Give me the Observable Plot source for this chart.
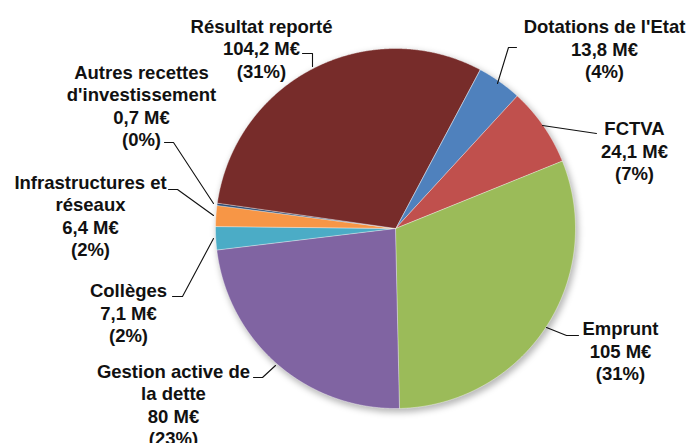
<!DOCTYPE html>
<html><head><meta charset="utf-8">
<script src="https://cdn.jsdelivr.net/npm/d3@7"></script>
<script src="https://cdn.jsdelivr.net/npm/@observablehq/plot@0.6"></script>
<style>body{margin:0;background:#fff;overflow:hidden}</style>
</head><body><div id="chart"></div>
<script>
// ---- data ----
const categories = ["Dotations de l'Etat","FCTVA","Emprunt","Gestion active de la dette","Collèges","Infrastructures et réseaux","Autres recettes d'investissement","Résultat reporté"];
const values = [13.8, 24.1, 105, 80, 7.1, 6.4, 0.7, 104.2];
const valueLabels = ["13,8 M€","24,1 M€","105 M€","80 M€","7,1 M€","6,4 M€","0,7 M€","104,2 M€"];
const percentLabels = ["(4%)","(7%)","(31%)","(23%)","(2%)","(2%)","(0%)","(31%)"];
const nameLines = ["Dotations de l'Etat","FCTVA","Emprunt","Gestion active de\nla dette","Collèges","Infrastructures et\nréseaux","Autres recettes\nd'investissement","Résultat reporté"];
const colors = ["#4F81BD","#C0504D","#9BBB59","#8064A2","#4BACC6","#F79646","#2C4D75","#772C2A"];

// ---- layout ----
const W = 688, H = 443;
const CX = 395, CY = 228, R = 180;
const START = 28 * Math.PI / 180;
const labelPos = [[604,48],[634,150],[620,350],[173,404],[128,312],[90,215],[141,105],[261,47.5]];
const leaderPaths = [
  [[516,47],[508,47],[497,83]],
  [[596,133],[542,125]],
  [[578,335],[566,335],[546,327]],
  [[253,377],[262,377],[275,365]],
  [[172,296],[182,296],[213,238]],
  [[168,189],[177,189],[213,215]],
  [[164,142],[173,142],[213,203]],
  [[302,53],[312,53],[312,66]]
];

const arcs = d3.pie().sort(null).startAngle(START).endAngle(START + 2*Math.PI)(values);
const slicePts = [];
arcs.forEach((a, i) => {
  slicePts.push({name: categories[i], color: colors[i], x: CX, y: CY});
  const n = Math.max(2, Math.ceil((a.endAngle - a.startAngle) / (0.25*Math.PI/180)));
  for (let k = 0; k <= n; k++) {
    const t = a.startAngle + (a.endAngle - a.startAngle) * k / n;
    slicePts.push({name: categories[i], color: colors[i], x: CX + R*Math.sin(t), y: CY - R*Math.cos(t)});
  }
});
const leaderPts = leaderPaths.flatMap((p, i) => p.map(([x, y]) => ({id: categories[i], x, y})));
const labels = categories.map((c, i) => ({
  text: nameLines[i] + "\n" + valueLabels[i] + "\n" + percentLabels[i],
  x: labelPos[i][0], y: labelPos[i][1]
}));

const chart = Plot.plot({
  width: W, height: H,
  margin: 0,
  x: {domain: [0, W], range: [0, W], axis: null},
  y: {domain: [0, H], range: [0, H], axis: null},
  color: {type: "identity"},
  style: {background: "#fff", fontFamily: "'Liberation Sans', Arial, sans-serif"},
  marks: [
    Plot.dot([0], {x: () => CX + 2, y: () => CY + 3, r: R + 1, fill: "#000", fillOpacity: 0.28, stroke: "none"}),
    Plot.line(slicePts, {x: "x", y: "y", z: "name", fill: "color", stroke: "#fff", strokeWidth: 0.6, strokeOpacity: 0.7, curve: "linear-closed"}),
    Plot.line(leaderPts, {x: "x", y: "y", z: "id", stroke: "#111", strokeWidth: 1.1}),
    Plot.text(labels, {x: "x", y: "y", text: "text", fontSize: 18.5, fontWeight: "bold", fill: "#111", lineHeight: 1.216, textAnchor: "middle", lineAnchor: "middle"})
  ]
});
const shadow = chart.querySelector('g[aria-label="dot"]');
if (shadow) shadow.style.filter = "blur(3px)";
document.getElementById("chart").appendChild(chart);
</script>
</body></html>
